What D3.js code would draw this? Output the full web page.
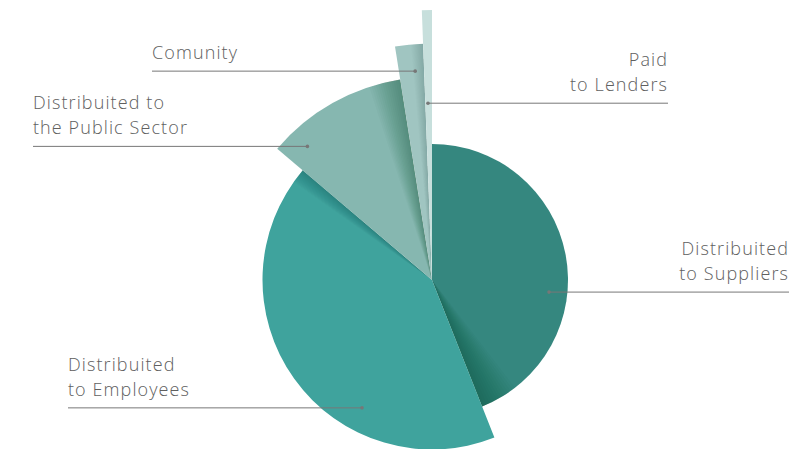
<!DOCTYPE html>
<html>
<head>
<meta charset="utf-8">
<script src="https://cdn.jsdelivr.net/npm/d3@7"></script>
<style>
  body { margin: 0; background: #fff; }
  text { font-family: "Open Sans", sans-serif; font-weight: 300; fill: #606060; letter-spacing: 1.1px; }
</style>
</head>
<body>
<div id="chart-area"></div>
<script>
// data (share of value, %)
var categories = ["Distribuited to Suppliers", "Distribuited to Employees", "Distribuited to the Public Sector", "Comunity", "Paid to Lenders"];
var values = [44.0, 42.2, 11.3, 1.9, 0.6];
var colors = ["#35877f", "#3fa39d", "#86b7b0", "#a0c5c1", "#c7dfdc"];
var labelLines = [["Distribuited", "to Suppliers"], ["Distribuited", "to Employees"], ["Distribuited to", "the Public Sector"], ["Comunity"], ["Paid", "to Lenders"]];

var svg_width = 802;
var svg_height = 449;
var cx = 432, cy = 280;

// label layout: where the leader line hits the slice, and where the text sits
var layout = [
    {angle: 95.9, rf: 0.865, textX: 789, anchor: "end"},
    {angle: 208.7, rf: 0.86, textX: 68, anchor: "start"},
    {angle: 317, rf: 0.9, textX: 33, anchor: "start"},
    {angle: 355.4, rf: 0.886, textX: 152, anchor: "start"},
    {angle: 358.7, rf: 0.655, textX: 668, anchor: "end"}
];
// width (deg) and strength of the shade along each slice's closing edge
var shade = [{w: 16, o: 0.028}, {w: 5, o: 0.02}, {w: 9, o: 0.026}, {w: 3, o: 0.012}];

var svg = d3.select("#chart-area").append("svg")
    .attr("width", svg_width)
    .attr("height", svg_height);

var g = svg.append("g").attr("transform", "translate(" + cx + "," + cy + ")");

var pie = d3.pie().sort(null).value((d) => d);
var arcs = pie(values);

// each slice a step longer than the one before
var radius = d3.scaleLinear().domain([0, values.length - 1]).range([136, 270]);

var arc = d3.arc().innerRadius(0);

arcs.forEach((d, i) => {
    var r = radius(i);
    g.append("path")
        .attr("d", arc.outerRadius(r)(d))
        .attr("fill", colors[i]);

    if (shade[i]) {
        var span = d.endAngle - d.startAngle;
        var w = Math.min(span * 0.6, shade[i].w * Math.PI / 180);
        var n = 14;
        d3.range(n).forEach((k) => {
            g.append("path")
                .attr("d", arc.outerRadius(r)({startAngle: d.endAngle - w * (k + 1) / n, endAngle: d.endAngle}))
                .attr("fill", "#0d3a35")
                .attr("fill-opacity", shade[i].o);
        });
    }
});

// leader lines and labels
arcs.forEach((d, i) => {
    var L = layout[i];
    var a = L.angle * Math.PI / 180;
    var r = radius(i) * L.rf;
    var px = cx + r * Math.sin(a);
    var py = cy - r * Math.cos(a);

    svg.append("line")
        .attr("x1", px).attr("y1", py)
        .attr("x2", L.textX).attr("y2", py)
        .attr("stroke", "#777")
        .attr("stroke-width", 1);

    svg.append("circle")
        .attr("cx", px).attr("cy", py)
        .attr("r", 1.8)
        .attr("fill", "#777");

    var lines = labelLines[i];
    lines.forEach((t, j) => {
        svg.append("text")
            .attr("x", L.textX)
            .attr("y", py - 12 - (lines.length - 1 - j) * 25)
            .attr("text-anchor", L.anchor)
            .attr("font-size", 18)
            .text(t);
    });
});
</script>
</body>
</html>
